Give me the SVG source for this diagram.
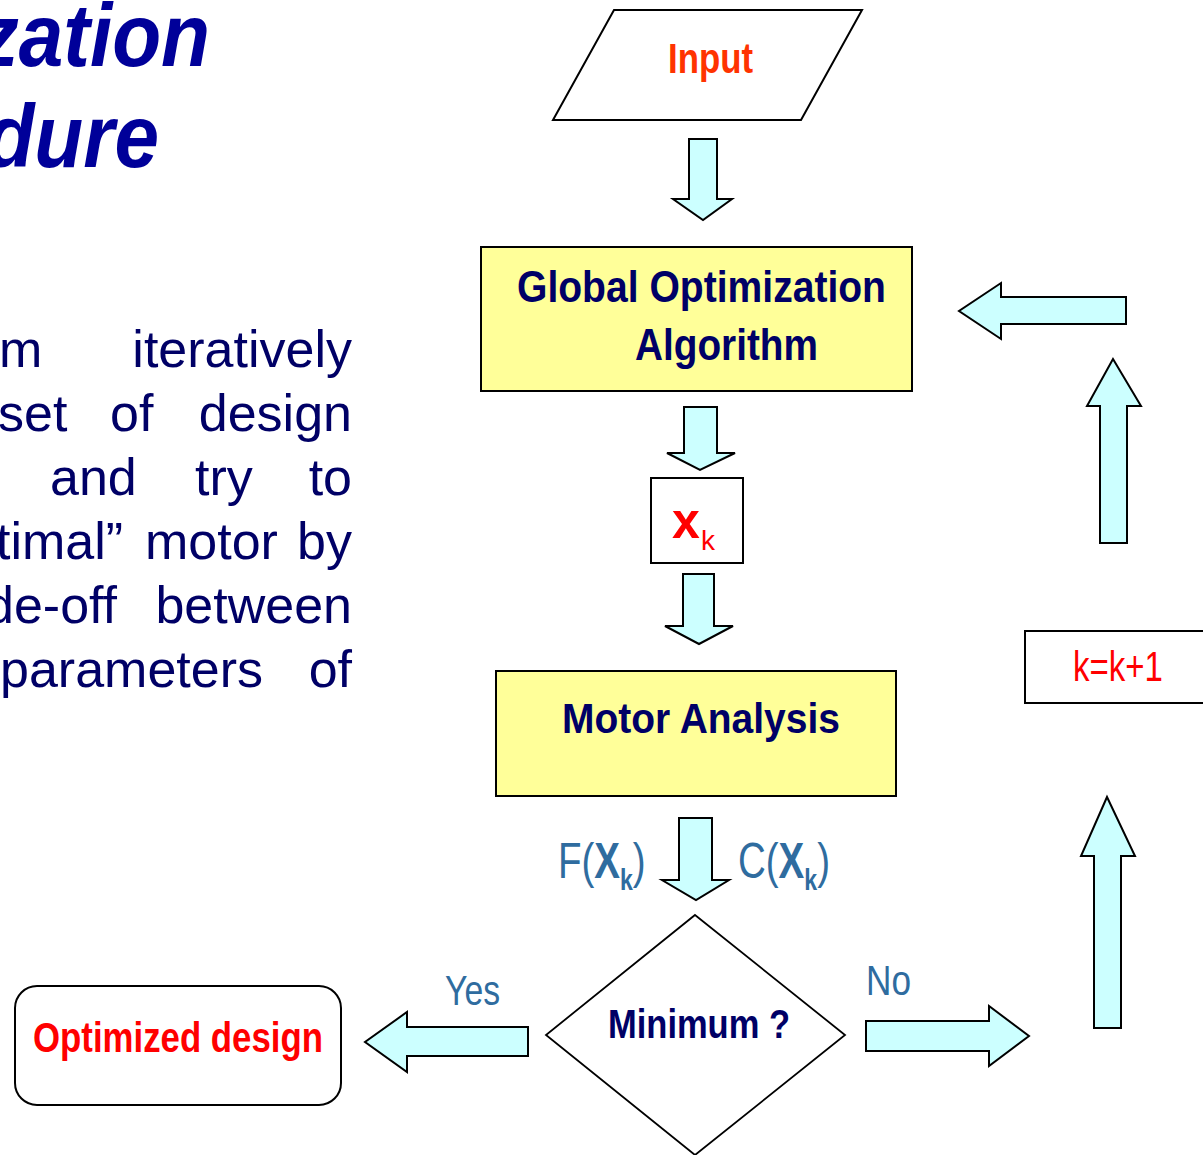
<svg xmlns="http://www.w3.org/2000/svg" width="1203" height="1155" viewBox="0 0 1203 1155">
<style>
.title{font-family:"Liberation Sans",Arial,sans-serif;font-weight:bold;font-style:italic;font-size:89px;fill:#000099}
.body{font-family:"Liberation Sans",Arial,sans-serif;font-size:52px;fill:#000066}
.lbl{font-family:"Liberation Sans",Arial,sans-serif;font-weight:bold;fill:#000066}
.red{font-family:"Liberation Sans",Arial,sans-serif;fill:#FF0000}
.blue{font-family:"Liberation Sans",Arial,sans-serif;fill:#2F6C9F}
.box{stroke:#000;stroke-width:2}
.arr{fill:#CCFFFF;stroke:#000;stroke-width:2;stroke-linejoin:miter}
</style>
<rect width="1203" height="1155" fill="#fff"/>
<g id="title">
<text class="title" transform="translate(210,66) scale(0.9,1)" x="0" y="0" text-anchor="end">zation</text>
<text class="title" transform="translate(159,167) scale(0.9,1)" x="0" y="0" text-anchor="end">dure</text>
</g>
<g id="body-text" class="body">
<text x="-1" y="367">m</text><text x="352" y="367" text-anchor="end">iteratively</text>
<text x="-2" y="431">set</text><text x="110" y="431">of</text><text x="352" y="431" text-anchor="end">design</text>
<text x="50" y="495">and</text><text x="195" y="495">try</text><text x="352" y="495" text-anchor="end">to</text>
<text x="-4" y="559">timal”</text><text x="145" y="559">motor</text><text x="352" y="559" text-anchor="end">by</text>
<text x="117" y="623" text-anchor="end">de-off</text><text x="352" y="623" text-anchor="end">between</text>
<text x="0" y="687">parameters</text><text x="352" y="687" text-anchor="end">of</text>
</g>
<g id="input">
<polygon class="box" points="614,10 862,10 801,120 553,120" fill="#fff"/>
<text x="668" y="73" font-family="Liberation Sans, Arial, sans-serif" font-weight="bold" font-size="42" fill="#FF3300" textLength="85" lengthAdjust="spacingAndGlyphs">Input</text>
</g>
<g id="goa">
<rect class="box" x="481" y="247" width="431" height="144" fill="#FFFF99"/>
<text class="lbl" x="517" y="302" font-size="44" textLength="369" lengthAdjust="spacingAndGlyphs">Global Optimization</text>
<text class="lbl" x="635" y="360" font-size="44" textLength="183" lengthAdjust="spacingAndGlyphs">Algorithm</text>
</g>
<g id="xk">
<rect class="box" x="651" y="478" width="92" height="85" fill="#fff"/>
<text class="red" x="672" y="538" font-size="50" font-weight="bold">x</text>
<text class="red" x="701" y="550" font-size="28">k</text>
</g>
<g id="motor-analysis">
<rect class="box" x="496" y="671" width="400" height="125" fill="#FFFF99"/>
<text class="lbl" x="562" y="733" font-size="42" textLength="278" lengthAdjust="spacingAndGlyphs">Motor Analysis</text>
</g>
<g id="minimum">
<polygon points="695,915 845,1035 695,1155 546,1035" fill="#fff" stroke="#000" stroke-width="1.8"/>
<text class="lbl" x="608" y="1038" font-size="40" textLength="182" lengthAdjust="spacingAndGlyphs">Minimum ?</text>
</g>
<g id="optimized">
<rect class="box" x="15" y="986" width="326" height="119" rx="22" ry="22" fill="#fff"/>
<text class="red" x="33" y="1052" font-size="42" font-weight="bold" textLength="290" lengthAdjust="spacingAndGlyphs">Optimized design</text>
</g>
<g id="increment">
<rect class="box" x="1025" y="631" width="190" height="72" fill="#fff"/>
<text class="red" x="1073" y="681" font-size="42" textLength="90" lengthAdjust="spacingAndGlyphs">k=k+1</text>
</g>
<g id="connectors">
<polygon class="arr" points="689,139 717,139 717,199 732,199 703,220 673,199 689,199"/>
<polygon class="arr" points="684,407 717,407 717,453 735,453 700,470 667,453 684,453"/>
<polygon class="arr" points="683,574 714,574 714,626 733,626 699,644 665,626 683,626"/>
<polygon class="arr" points="679,818 712,818 712,880 729,880 696,900 662,880 679,880"/>
<polygon class="arr" points="528,1027 528,1056 407,1056 407,1072 365,1042 407,1012 407,1027"/>
<polygon class="arr" points="866,1021 989,1021 989,1006 1029,1036 989,1066 989,1051 866,1051"/>
<polygon class="arr" points="1094,1028 1094,856 1081,856 1107,797 1135,856 1121,856 1121,1028"/>
<polygon class="arr" points="1100,543 1100,406 1087,406 1113,359 1141,406 1127,406 1127,543"/>
<polygon class="arr" points="1126,297 1126,324 1001,324 1001,339 959,311 1001,283 1001,297"/>
<g transform="translate(558,878) scale(0.77,1)">
<text class="blue" x="0" y="0" font-size="50">F(<tspan font-weight="bold">X</tspan><tspan font-weight="bold" font-size="30" dy="12">k</tspan><tspan dy="-12">)</tspan></text>
</g>
<g transform="translate(738,878) scale(0.77,1)">
<text class="blue" x="0" y="0" font-size="50">C(<tspan font-weight="bold">X</tspan><tspan font-weight="bold" font-size="30" dy="12">k</tspan><tspan dy="-12">)</tspan></text>
</g>
<text class="blue" x="445" y="1005" font-size="42" textLength="55" lengthAdjust="spacingAndGlyphs">Yes</text>
<text class="blue" x="866" y="995" font-size="42" textLength="45" lengthAdjust="spacingAndGlyphs">No</text>
</g>
</svg>
